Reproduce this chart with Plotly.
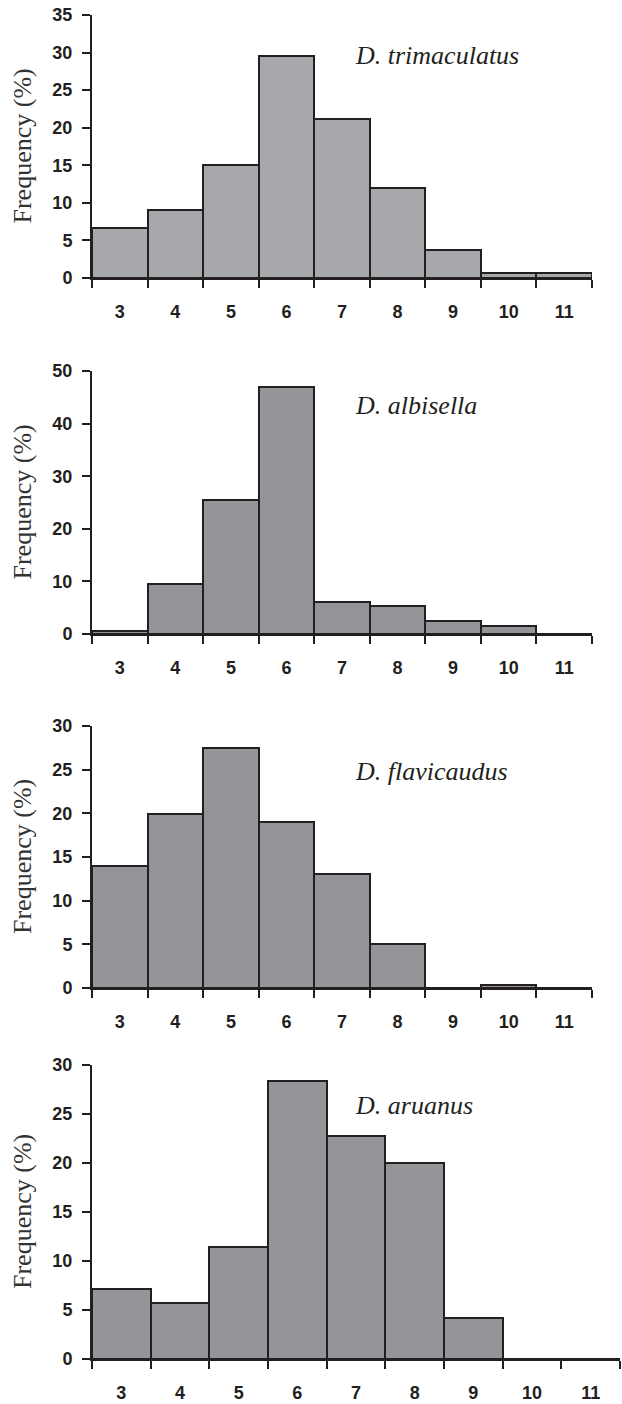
import plotly.graph_objects as go

# ---------------- data ----------------
categories = [3, 4, 5, 6, 7, 8, 9, 10, 11]
tick_labels = ["3", "4", "5", "6", "7", "8", "9", "10", "11"]

trimaculatus = [6.7, 9.0, 15.1, 29.5, 21.2, 12.0, 3.7, 0.7, 0.7]
albisella = [0.6, 9.6, 25.5, 46.9, 6.1, 5.3, 2.5, 1.6, 0]
flavicaudus = [14.0, 19.9, 27.5, 19.0, 13.0, 5.0, 0, 0.4, 0]
aruanus = [7.1, 5.7, 11.4, 28.4, 22.8, 20.0, 4.2, 0, 0]

species = ["D. trimaculatus", "D. albisella", "D. flavicaudus", "D. aruanus"]
series = [trimaculatus, albisella, flavicaudus, aruanus]
y_max = [35, 50, 30, 30]
y_step = [5, 10, 5, 5]

# ---------------- layout geometry (pixels) ----------------
W, H = 622, 1404
DARK = "#231f20"
bar_colors = ["#a7a8ab", "#939598", "#939598", "#939598"]
# (left, right, top, bottom) in pixels
boxes = [
    (92, 592, 15, 278),
    (92, 592, 371, 634),
    (92, 592, 726, 988),
    (92, 620, 1065, 1359),
]
label_y = [55, 406, 771, 1105]
label_x = 353

edges = [c - 0.5 for c in categories] + [categories[-1] + 0.5]

fig = go.Figure()
layout = dict(
    width=W, height=H,
    margin=dict(l=0, r=0, t=0, b=0, autoexpand=False),
    paper_bgcolor="white", plot_bgcolor="white",
    showlegend=False, bargap=0,
    annotations=[],
)

tickfont = dict(family="Liberation Sans, Arial, sans-serif", size=18, color=DARK, weight="bold")

for i in range(4):
    n = i + 1
    xs = "x" if n == 1 else f"x{n}"
    ys = "y" if n == 1 else f"y{n}"
    xk = "xaxis" if n == 1 else f"xaxis{n}"
    yk = "yaxis" if n == 1 else f"yaxis{n}"
    l, r, t, b = boxes[i]
    fig.add_trace(go.Bar(
        x=categories, y=series[i], width=1,
        marker=dict(color=bar_colors[i], line=dict(color=DARK, width=2)),
        xaxis=xs, yaxis=ys, hoverinfo="skip",
    ))
    layout[xk] = dict(
        domain=[l / W, r / W], anchor=ys, automargin=False,
        range=[edges[0], edges[-1]],
        tickmode="array", tickvals=categories, ticktext=tick_labels,
        ticks="outside", ticklen=16, tickcolor="rgba(0,0,0,0)",
        minor=dict(tickmode="array", tickvals=edges, ticks="outside",
                   ticklen=8, tickwidth=2, tickcolor=DARK, showgrid=False),
        showline=True, linewidth=2, linecolor=DARK,
        showgrid=False, zeroline=False, tickfont=tickfont, fixedrange=True,
    )
    layout[yk] = dict(
        domain=[1 - b / H, 1 - t / H], anchor=xs, automargin=False,
        range=[0, y_max[i]], tickmode="linear", tick0=0, dtick=y_step[i],
        ticks="outside", ticklen=8, tickwidth=2, tickcolor=DARK,
        ticklabelstandoff=6,
        showline=True, linewidth=2, linecolor=DARK,
        showgrid=False, zeroline=False, tickfont=tickfont, fixedrange=True,
    )
    layout["annotations"].append(dict(
        text="Frequency (%)", textangle=-90, showarrow=False,
        xref="paper", x=22 / W, xanchor="center",
        yref=f"{ys} domain", y=0.5, yanchor="middle",
        font=dict(family="Liberation Serif, Times New Roman, serif", size=26, color="#333333"),
    ))
    layout["annotations"].append(dict(
        text=species[i], showarrow=False,
        xref="paper", x=label_x / W, xanchor="left",
        yref="paper", y=1 - label_y[i] / H, yanchor="middle",
        font=dict(family="Liberation Serif, Times New Roman, serif", size=26, color=DARK, style="italic"),
    ))

fig.update_layout(**layout)
fig.write_html("out.html", config={"displayModeBar": False},
               post_script="document.body.style.margin='0';")
